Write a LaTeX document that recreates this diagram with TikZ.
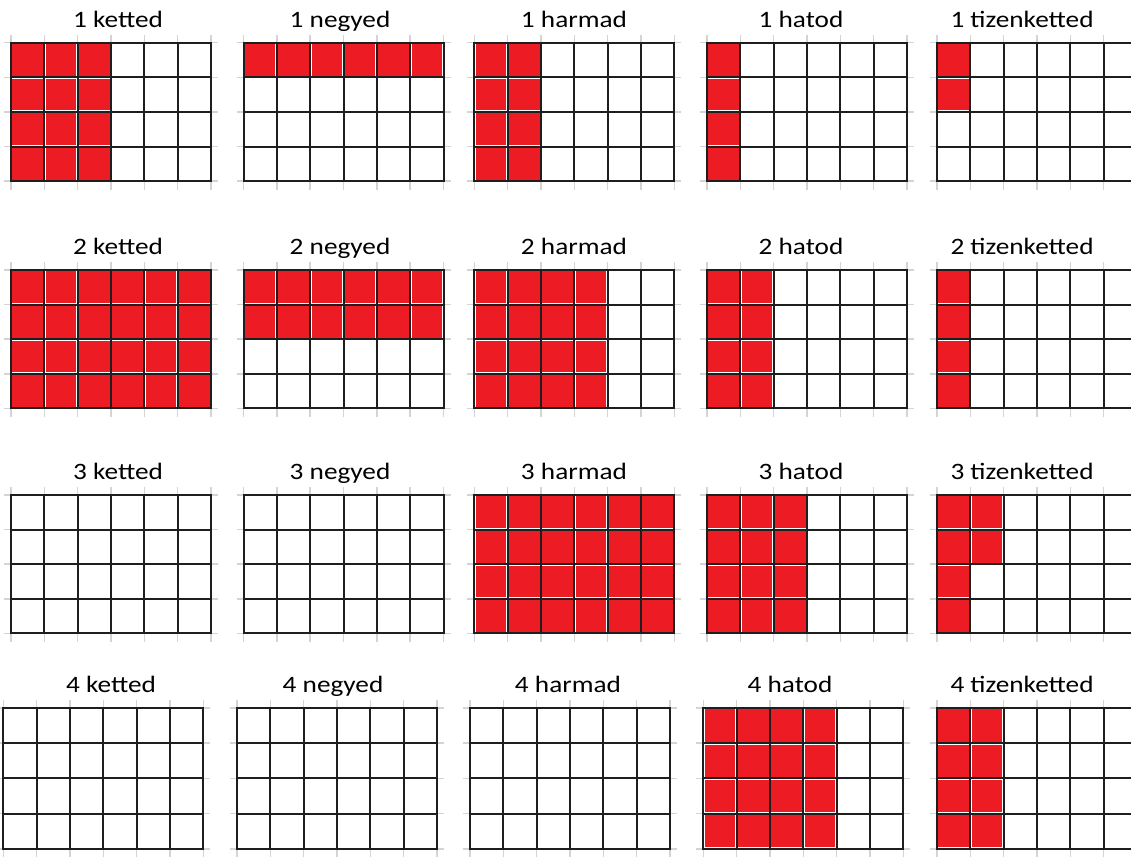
\documentclass[tikz,border=0pt]{standalone}
\usepackage{fontspec}
\newfontfamily\lab[FakeStretch=1.16]{Carlito}
\definecolor{cellred}{HTML}{ED1C24}
\definecolor{gridblack}{HTML}{1E1E1E}
\definecolor{tickgray}{HTML}{D4D4D4}
\tikzset{
  tickline/.style={draw=tickgray,line width=1.5pt},
  gridline/.style={draw=gridblack,line width=2pt,line cap=rect},
  redcell/.style={fill=cellred},
  title/.style={font=\lab\fontsize{23.5}{23.5}\selectfont,anchor=base,inner sep=0pt,text=black}
}
% #1 x, #2 y, #3 cell width, #4 cell height
\newcommand\mygrid[4]{%
  \begin{scope}[shift={(#1,#2)}]
    \foreach \i in {0,...,6} \draw[tickline] (\i*#3,-8) -- (\i*#3,4*#4+9);
    \foreach \j in {0,...,4} \draw[tickline] (-7,\j*#4) -- (6*#3+7,\j*#4);
    \foreach \i in {0,...,6} \draw[gridline] (\i*#3,0) -- (\i*#3,4*#4);
    \foreach \j in {0,...,4} \draw[gridline] (0,\j*#4) -- (6*#3,\j*#4);
  \end{scope}}
% #1 x, #2 y, #3 cell width, #4 cell height, #5 list col/row (0-based)
\newcommand\mycells[5]{%
  \begin{scope}[shift={(#1,#2)}]
    \foreach \c/\r in {#5}
      \fill[redcell] (\c*#3+1.4,\r*#4+1.4) rectangle (\c*#3+#3-1.4,\r*#4+#4-1.4);
  \end{scope}}
\begin{document}
\begin{tikzpicture}[x=1pt,y=-1pt]
\useasboundingbox[fill=white] (0,0) rectangle (1131,856);
\def\cw{33.333}
\def\ch{34.6}
% ---------- row 1 ----------
\node[title] (t11) at (118,27.3) {1 ketted};
\node[title] (t12) at (340,27.3) {1 negyed};
\node[title] (t13) at (574,27.3) {1 harmad};
\node[title] (t14) at (801,27.3) {1 hatod};
\node[title] (t15) at (1022,27.3) {1 tizenketted};
\mycells{11}{42.7}{\cw}{\ch}{0/0,1/0,2/0,0/1,1/1,2/1,0/2,1/2,2/2,0/3,1/3,2/3}
\mycells{243.5}{42.7}{\cw}{\ch}{0/0,1/0,2/0,3/0,4/0,5/0}
\mycells{474.3}{42.7}{\cw}{\ch}{0/0,1/0,0/1,1/1,0/2,1/2,0/3,1/3}
\mycells{707}{42.7}{\cw}{\ch}{0/0,0/1,0/2,0/3}
\mycells{937}{42.7}{\cw}{\ch}{0/0,0/1}
\mygrid{11}{42.7}{\cw}{\ch}
\mygrid{243.5}{42.7}{\cw}{\ch}
\mygrid{474.3}{42.7}{\cw}{\ch}
\mygrid{707}{42.7}{\cw}{\ch}
\mygrid{937}{42.7}{\cw}{\ch}
% ---------- row 2 ----------
\node[title] (t21) at (118,254.6) {2 ketted};
\node[title] (t22) at (340,254.6) {2 negyed};
\node[title] (t23) at (574,254.6) {2 harmad};
\node[title] (t24) at (801,254.6) {2 hatod};
\node[title] (t25) at (1022,254.6) {2 tizenketted};
\mycells{11}{270}{\cw}{\ch}{0/0,1/0,2/0,3/0,4/0,5/0,0/1,1/1,2/1,3/1,4/1,5/1,0/2,1/2,2/2,3/2,4/2,5/2,0/3,1/3,2/3,3/3,4/3,5/3}
\mycells{243.5}{270}{\cw}{\ch}{0/0,1/0,2/0,3/0,4/0,5/0,0/1,1/1,2/1,3/1,4/1,5/1}
\mycells{474.3}{270}{\cw}{\ch}{0/0,1/0,2/0,3/0,0/1,1/1,2/1,3/1,0/2,1/2,2/2,3/2,0/3,1/3,2/3,3/3}
\mycells{707}{270}{\cw}{\ch}{0/0,1/0,0/1,1/1,0/2,1/2,0/3,1/3}
\mycells{937}{270}{\cw}{\ch}{0/0,0/1,0/2,0/3}
\mygrid{11}{270}{\cw}{\ch}
\mygrid{243.5}{270}{\cw}{\ch}
\mygrid{474.3}{270}{\cw}{\ch}
\mygrid{707}{270}{\cw}{\ch}
\mygrid{937}{270}{\cw}{\ch}
% ---------- row 3 ----------
\node[title] (t31) at (118,479.6) {3 ketted};
\node[title] (t32) at (340,479.6) {3 negyed};
\node[title] (t33) at (574,479.6) {3 harmad};
\node[title] (t34) at (801,479.6) {3 hatod};
\node[title] (t35) at (1022,479.6) {3 tizenketted};
\mycells{474.3}{495}{\cw}{\ch}{0/0,1/0,2/0,3/0,4/0,5/0,0/1,1/1,2/1,3/1,4/1,5/1,0/2,1/2,2/2,3/2,4/2,5/2,0/3,1/3,2/3,3/3,4/3,5/3}
\mycells{707}{495}{\cw}{\ch}{0/0,1/0,2/0,0/1,1/1,2/1,0/2,1/2,2/2,0/3,1/3,2/3}
\mycells{937}{495}{\cw}{\ch}{0/0,1/0,0/1,1/1,0/2,0/3}
\mygrid{11}{495}{\cw}{\ch}
\mygrid{243.5}{495}{\cw}{\ch}
\mygrid{474.3}{495}{\cw}{\ch}
\mygrid{707}{495}{\cw}{\ch}
\mygrid{937}{495}{\cw}{\ch}
% ---------- row 4 ----------
\def\chb{35.2}
\node[title] (t41) at (111,692.7) {4 ketted};
\node[title] (t42) at (333,692.7) {4 negyed};
\node[title] (t43) at (568,692.7) {4 harmad};
\node[title] (t44) at (790,692.7) {4 hatod};
\node[title] (t45) at (1022,692.7) {4 tizenketted};
\mycells{703.3}{708}{\cw}{\chb}{0/0,1/0,2/0,3/0,0/1,1/1,2/1,3/1,0/2,1/2,2/2,3/2,0/3,1/3,2/3,3/3}
\mycells{937}{708}{\cw}{\chb}{0/0,1/0,0/1,1/1,0/2,1/2,0/3,1/3}
\mygrid{3.3}{708}{\cw}{\chb}
\mygrid{237}{708}{\cw}{\chb}
\mygrid{470}{708}{\cw}{\chb}
\mygrid{703.3}{708}{\cw}{\chb}
\mygrid{937}{708}{\cw}{\chb}
\end{tikzpicture}
\end{document}
